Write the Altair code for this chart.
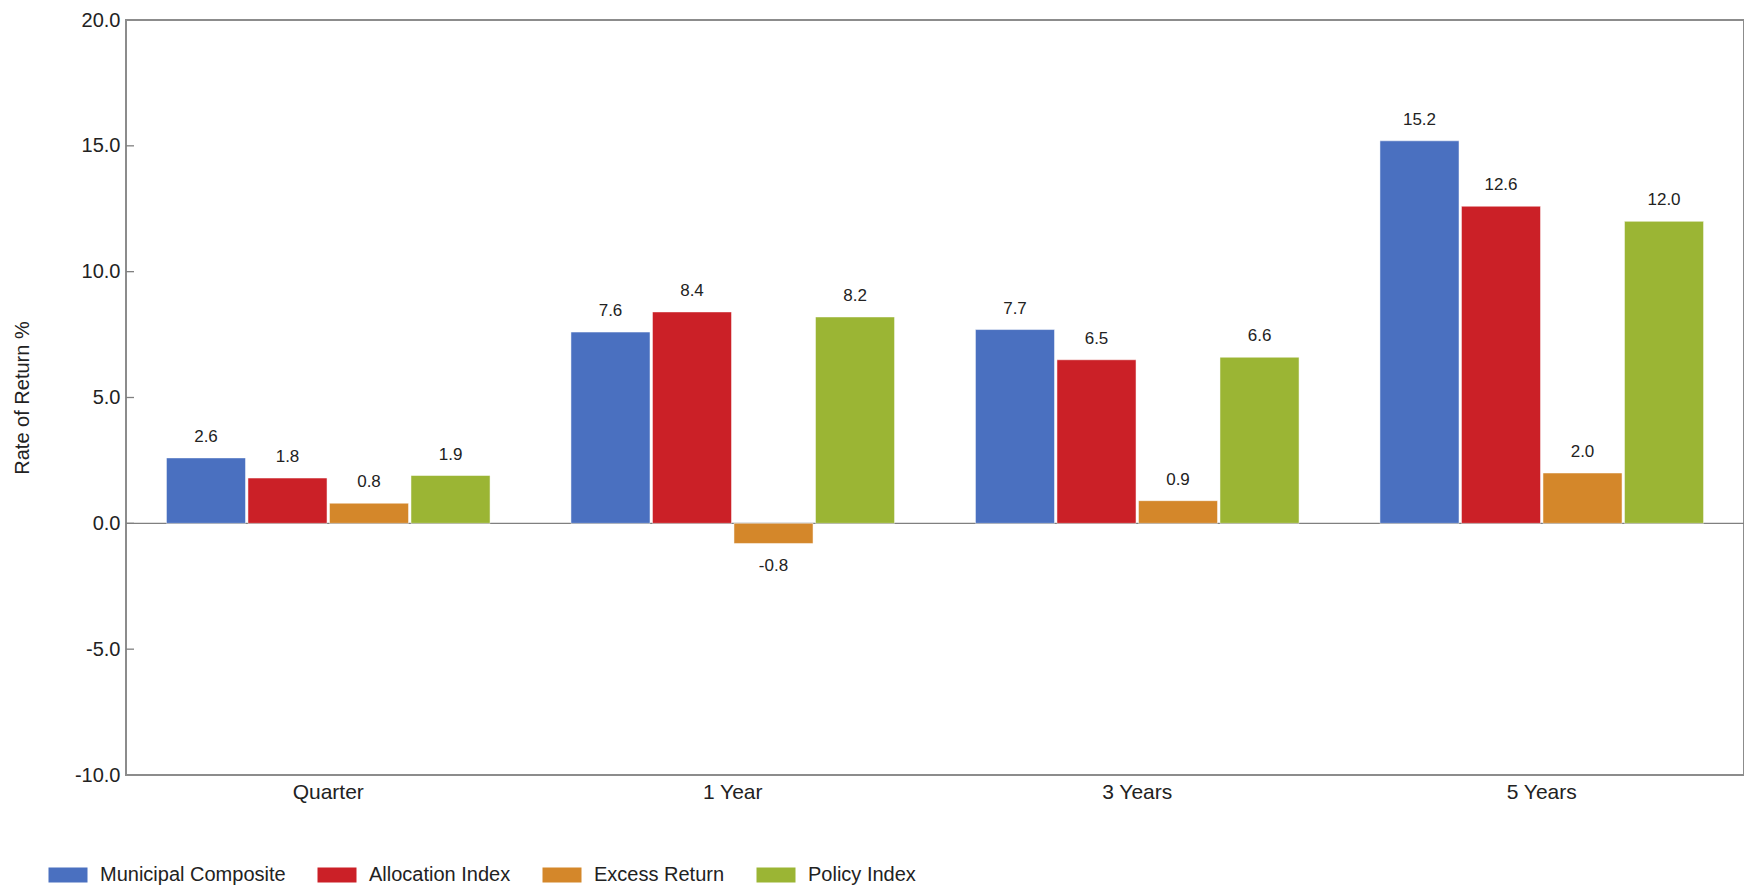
import altair as alt
import pandas as pd

categories = ["Quarter", "1 Year", "3 Years", "5 Years"]
series = ["Municipal Composite", "Allocation Index", "Excess Return", "Policy Index"]
municipal = [2.6, 7.6, 7.7, 15.2]
allocation = [1.8, 8.4, 6.5, 12.6]
excess = [0.8, -0.8, 0.9, 2.0]
policy = [1.9, 8.2, 6.6, 12.0]
colors = ["#4a70c0", "#cb2027", "#d4872a", "#9bb534"]
y_ticks = [-10, -5, 0, 5, 10, 15, 20]

rows = []
for i, c in enumerate(categories):
    for s, vals in zip(series, [municipal, allocation, excess, policy]):
        rows.append({"category": c, "series": s, "value": vals[i]})
df = pd.DataFrame(rows)

FONT = "Liberation Sans Narrow, Liberation Sans, Arial"
LBL = "replace(format(datum.value, '.1f'), '\u2212', '-')"

x_enc = alt.X("category:N", sort=categories,
              scale=alt.Scale(paddingInner=0.2, paddingOuter=0.1),
              axis=alt.Axis(title=None, labelAngle=0, labelFontSize=21, labelColor="#222",
                            labelFont=FONT, ticks=False, domain=False, labelPadding=6))
xoff = alt.XOffset("series:N", sort=series, scale=alt.Scale(paddingInner=0.03))
y_scale = alt.Scale(domain=[-10, 20], nice=False, zero=False)

base = alt.Chart(df).transform_calculate(lbl=LBL)

bars = base.mark_bar(stroke="white", strokeWidth=0.5).encode(
    x=x_enc,
    xOffset=xoff,
    y=alt.Y("value:Q", scale=y_scale,
            axis=alt.Axis(title="Rate of Return %", values=y_ticks, labelExpr=LBL,
                          labelFontSize=20, labelColor="#222", labelFont=FONT,
                          titleFont=FONT, titleFontSize=20, titleFontWeight="normal",
                          titleColor="#222", titlePadding=42, ticks=False, domain=False,
                          grid=False, labelPadding=6)),
    color=alt.Color("series:N", sort=series,
                    scale=alt.Scale(domain=series, range=colors),
                    legend=alt.Legend(title=None, orient="none", direction="horizontal",
                                      legendX=-68, legendY=845,
                                      symbolType="M-2.6,-1H2.6V1H-2.6Z", symbolSize=225,
                                      symbolStrokeWidth=0, symbolOpacity=1,
                                      labelFont=FONT, labelFontSize=20, labelColor="#222",
                                      labelLimit=0, columnPadding=31, labelOffset=22)),
)

pos_labels = base.transform_filter("datum.value >= 0").mark_text(
    baseline="bottom", dy=-12, fontSize=17, font=FONT, color="#222"
).encode(x=alt.X("category:N", sort=categories), xOffset=xoff,
         y=alt.Y("value:Q", scale=y_scale), text="lbl:N")

neg_labels = base.transform_filter("datum.value < 0").mark_text(
    baseline="top", dy=15, fontSize=17, font=FONT, color="#222"
).encode(x=alt.X("category:N", sort=categories), xOffset=xoff,
         y=alt.Y("value:Q", scale=y_scale), text="lbl:N")

zero = alt.Chart(pd.DataFrame({"y": [0]})).mark_rule(color="#808080", strokeWidth=1.3).encode(
    y=alt.Y("y:Q", scale=y_scale))

ticks = alt.Chart(pd.DataFrame({"y": y_ticks[1:-1]})).mark_rule(color="#808080", strokeWidth=1.3).encode(
    y=alt.Y("y:Q", scale=y_scale), x=alt.value(0), x2=alt.value(8))

chart = alt.layer(zero, bars, pos_labels, neg_labels, ticks).properties(
    width=1618, height=755,
    background="white",
    autosize=alt.AutoSizeParams(type="none"),
    padding={"left": 118, "top": 12, "right": 0, "bottom": 111},
).configure_view(stroke="#8c8c8c", strokeWidth=2)

chart.save("out.html", embed_options={"renderer": "svg", "actions": False})
